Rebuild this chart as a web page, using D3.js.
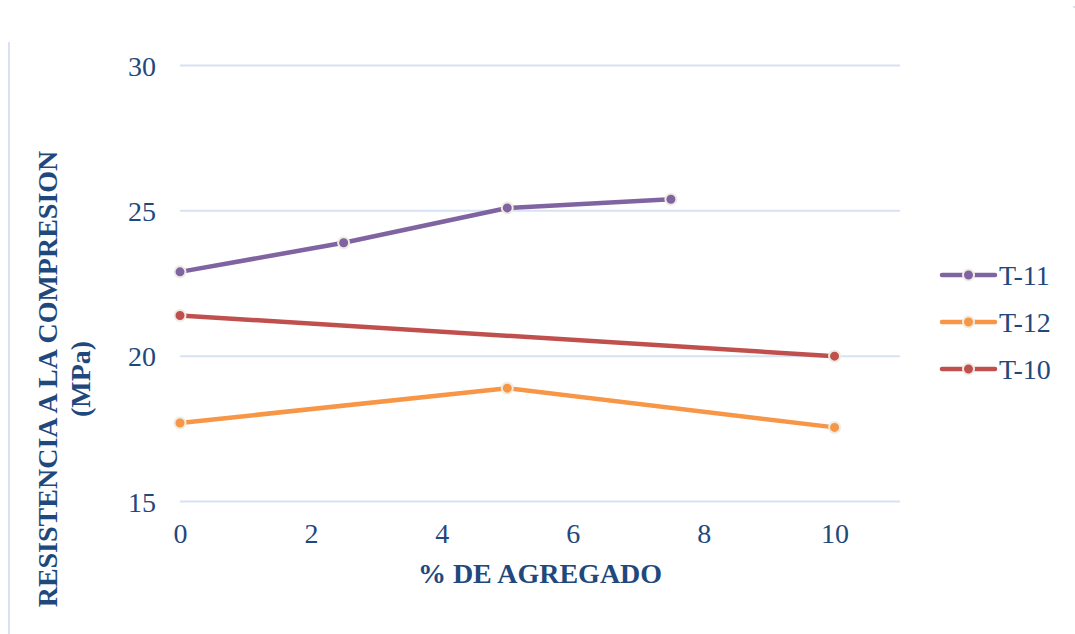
<!DOCTYPE html>
<html>
<head>
<meta charset="utf-8">
<script src="https://cdn.jsdelivr.net/npm/d3@7"></script>
<style>
  html, body { margin: 0; padding: 0; background: #fff; }
  svg { display: block; }
</style>
</head>
<body>
<svg id="chart" width="1075" height="634"></svg>
<script>
// Compressive strength vs. % aggregate for three mixes
const seriesNames = ["T-11", "T-12", "T-10"];
const seriesColors = ["#8064A2", "#F79646", "#C0504D"];
const xT11 = [0, 2.5, 5, 7.5];
const yT11 = [22.9, 23.9, 25.1, 25.4];
const xT12 = [0, 5, 10];
const yT12 = [17.7, 18.9, 17.55];
const xT10 = [0, 10];
const yT10 = [21.4, 20.0];
const xTicks = [0, 2, 4, 6, 8, 10];
const yTicks = [15, 20, 25, 30];
const xTitle = "% DE AGREGADO";
const yTitleLines = ["RESISTENCIA A LA COMPRESION", "(MPa)"];

const series = [
  { name: seriesNames[0], color: seriesColors[0], pts: xT11.map((x, i) => [x, yT11[i]]) },
  { name: seriesNames[1], color: seriesColors[1], pts: xT12.map((x, i) => [x, yT12[i]]) },
  { name: seriesNames[2], color: seriesColors[2], pts: xT10.map((x, i) => [x, yT10[i]]) }
];

const textColor = "#1F497D";
const gridColor = "#D7E2F2";
const markerRing = "#EEEBE0";
const serif = "'Liberation Serif', 'Times New Roman', serif";
const fontSize = 28;

const svg = d3.select("#chart");

// chart frame edge on the left
svg.append("line")
  .attr("x1", 9).attr("x2", 9).attr("y1", 42).attr("y2", 634)
  .attr("stroke", gridColor).attr("stroke-width", 2);
svg.append("rect")
  .attr("x", 1073).attr("y", 6).attr("width", 2).attr("height", 2)
  .attr("fill", gridColor);

const x = d3.scaleLinear().domain([0, 11]).range([180, 900]);
const y = d3.scaleLinear().domain([15, 30]).range([501.5, 65.5]);

// horizontal gridlines
svg.append("g").selectAll("line").data(yTicks).join("line")
  .attr("x1", x(0)).attr("x2", x(11))
  .attr("y1", d => y(d)).attr("y2", d => y(d))
  .attr("stroke", gridColor).attr("stroke-width", 2);

// y tick labels
const yAxis = d3.axisLeft(y).tickValues(yTicks).tickSize(0).tickPadding(0);
const gy = svg.append("g").attr("transform", "translate(156,0)").call(yAxis);
gy.select(".domain").remove();
gy.selectAll("text")
  .attr("font-family", serif).attr("font-size", fontSize).attr("fill", textColor)
  .attr("dy", "0.35em");

// x tick labels
const xAxis = d3.axisBottom(x).tickValues(xTicks).tickSize(0).tickPadding(0);
const gx = svg.append("g").attr("transform", "translate(0,523)").call(xAxis);
gx.select(".domain").remove();
gx.selectAll("text")
  .attr("font-family", serif).attr("font-size", fontSize).attr("fill", textColor)
  .attr("dy", "0.71em");

// axis titles
svg.append("text")
  .attr("x", 540).attr("y", 583)
  .attr("text-anchor", "middle")
  .attr("font-family", serif).attr("font-size", fontSize).attr("font-weight", "bold")
  .attr("fill", textColor)
  .text(xTitle);

const yt = svg.append("text")
  .attr("transform", "translate(0,379) rotate(-90)")
  .attr("text-anchor", "middle")
  .attr("font-family", serif).attr("font-size", fontSize).attr("font-weight", "bold")
  .attr("fill", textColor);
yt.append("tspan").attr("x", 0).attr("y", 57).text(yTitleLines[0]);
yt.append("tspan").attr("x", 0).attr("y", 90).text(yTitleLines[1]);

// series lines and markers
const line = d3.line().x(d => x(d[0])).y(d => y(d[1]));
const g = svg.append("g");
series.forEach(s => {
  g.append("path")
    .attr("d", line(s.pts))
    .attr("fill", "none")
    .attr("stroke", s.color)
    .attr("stroke-width", 4.5)
    .attr("stroke-linejoin", "round");
});
series.forEach(s => {
  g.selectAll(null).data(s.pts).join("circle")
    .attr("cx", d => x(d[0])).attr("cy", d => y(d[1]))
    .attr("r", 5.5)
    .attr("fill", s.color)
    .attr("stroke", markerRing)
    .attr("stroke-width", 2);
});

// legend
const legendY = d3.scalePoint().domain(seriesNames).range([275, 369]);
const lg = svg.append("g");
series.forEach(s => {
  const ly = legendY(s.name);
  lg.append("line")
    .attr("x1", 942).attr("x2", 995).attr("y1", ly).attr("y2", ly)
    .attr("stroke", s.color).attr("stroke-width", 4.5).attr("stroke-linecap", "round");
  lg.append("circle")
    .attr("cx", 968.5).attr("cy", ly).attr("r", 5.5)
    .attr("fill", s.color).attr("stroke", markerRing).attr("stroke-width", 2);
  lg.append("text")
    .attr("x", 999).attr("y", ly).attr("dy", "0.35em")
    .attr("font-family", serif).attr("font-size", fontSize).attr("fill", textColor)
    .text(s.name);
});
</script>
</body>
</html>
